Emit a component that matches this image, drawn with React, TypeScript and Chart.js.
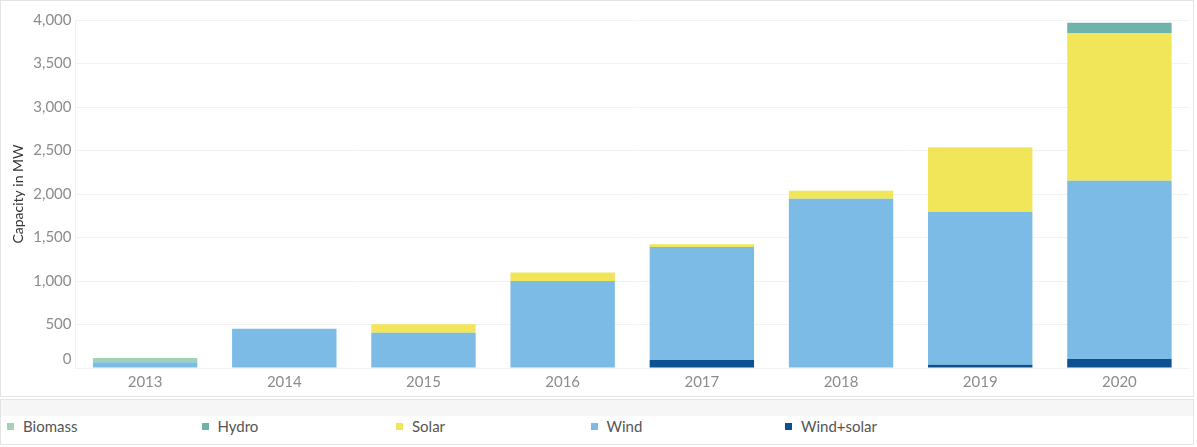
import { useEffect, useRef } from 'react';
import Chart from 'chart.js/auto';

const years = ['2013', '2014', '2015', '2016', '2017', '2018', '2019', '2020'];

// stacked from the bottom up
const windSolar = [0, 0, 0, 0, 92, 0, 38, 104];
const wind = [65, 450, 404, 1000, 1300, 1945, 1757, 2048];
const solar = [0, 0, 100, 98, 31, 92, 742, 1700];
const hydro = [0, 0, 0, 0, 0, 0, 0, 116];
const biomass = [50, 0, 0, 0, 0, 0, 0, 0];

const yTicks = [0, 500, 1000, 1500, 2000, 2500, 3000, 3500, 4000];

const legendNames = ['Biomass', 'Hydro', 'Solar', 'Wind', 'Wind+solar'];
const legendColors = ['#9fd3b3', '#6fb4ab', '#f1e65a', '#7bbbe5', '#0d5190'];

export default function App() {
  const canvasRef = useRef<HTMLCanvasElement>(null);
  const chartRef = useRef<Chart | null>(null);

  useEffect(() => {
    if (!canvasRef.current) return;
    if (chartRef.current) chartRef.current.destroy();

    const ctx = canvasRef.current.getContext('2d');
    if (!ctx) return;

    Chart.defaults.font.family = 'Lato, "Open Sans", sans-serif';

    chartRef.current = new Chart(ctx, {
      type: 'bar',
      data: {
        labels: years,
        datasets: [
          { label: 'Wind+solar', data: windSolar, backgroundColor: legendColors[4] },
          { label: 'Wind', data: wind, backgroundColor: legendColors[3] },
          { label: 'Solar', data: solar, backgroundColor: legendColors[2] },
          { label: 'Hydro', data: hydro, backgroundColor: legendColors[1] },
          { label: 'Biomass', data: biomass, backgroundColor: legendColors[0] },
        ],
      },
      options: {
        animation: false,
        responsive: true,
        maintainAspectRatio: false,
        layout: { padding: { top: 19, right: 4, left: 0, bottom: 0 } },
        datasets: { bar: { categoryPercentage: 1, barPercentage: 0.75, borderWidth: 0 } },
        plugins: {
          legend: { display: false },
          tooltip: { enabled: false },
        },
        scales: {
          x: {
            stacked: true,
            grid: { display: false, drawTicks: false },
            border: { display: false },
            ticks: { color: '#8c8c8c', font: { size: 15 }, padding: 5 },
            afterFit: (scale) => { scale.height = 28; },
          },
          y: {
            stacked: true,
            min: 0,
            max: 4000,
            afterBuildTicks: (scale) => { scale.ticks = yTicks.map((v) => ({ value: v })); },
            grid: { color: '#f2f2f2', drawTicks: false },
            border: { color: '#f0f0f0' },
            ticks: {
              color: '#8c8c8c',
              font: { size: 15 },
              padding: 4,
              callback: (v) => (Number(v) === 0 ? ['0', ''] : Number(v).toLocaleString('en-US')),
            },
            title: {
              display: true,
              text: 'Capacity in MW',
              color: '#333',
              font: { size: 14 },
              padding: { top: 9, bottom: 0 },
            },
            afterFit: (scale) => { scale.width = 74.5; },
          },
        },
      },
    });

    return () => chartRef.current?.destroy();
  }, []);

  return (
    <div style={{ position: 'fixed', left: 0, top: 0, width: 1197, height: 447, background: '#fff', fontFamily: 'Lato, "Open Sans", sans-serif' }}>
      <div style={{ position: 'absolute', left: 0, top: 0, width: 1194, height: 397, border: '1px solid #e4e4e4', boxSizing: 'border-box' }}>
        <div style={{ position: 'relative', width: 1192, height: 395 }}>
          <canvas ref={canvasRef} />
        </div>
      </div>
      <div style={{ position: 'absolute', left: 0, top: 399, width: 1194, height: 46, border: '1px solid #e4e4e4', boxSizing: 'border-box' }}>
        <div style={{ height: 16, background: '#f6f6f6' }} />
        <div style={{ display: 'flex', height: 20, alignItems: 'center', paddingLeft: 6 }}>
          {legendNames.map((name, i) => (
            <div key={name} style={{ width: 194.5, display: 'flex', alignItems: 'center' }}>
              <span style={{ width: 7, height: 7, background: legendColors[i], marginRight: 9, display: 'inline-block' }} />
              <span style={{ fontSize: 15, color: '#555' }}>{name}</span>
            </div>
          ))}
        </div>
      </div>
    </div>
  );
}
